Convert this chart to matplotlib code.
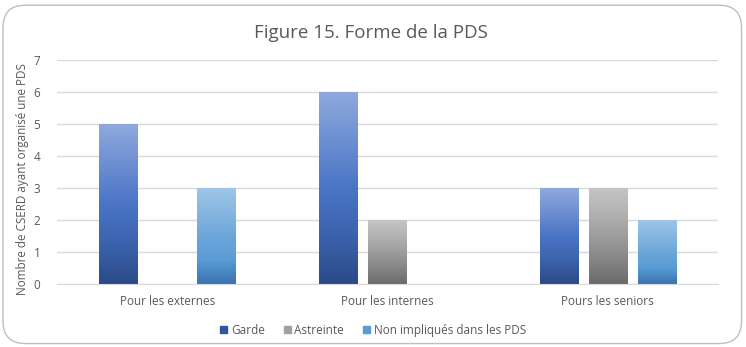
import numpy as np
import matplotlib.pyplot as plt
from matplotlib.colors import LinearSegmentedColormap
from matplotlib.patches import FancyBboxPatch

categories = ["Pour les externes", "Pour les internes", "Pours les seniors"]
series = ["Garde", "Astreinte", "Non impliqués dans les PDS"]
garde = [5, 6, 3]
astreinte = [0, 2, 3]
non_impliques = [3, 0, 2]

# gradient stops (bottom -> top) per series
gradients = [
    ["#2b4a86", "#3b63ad", "#4a74c6", "#6d8fd2", "#8fa9dd"],
    ["#6b6b6b", "#858585", "#9d9d9d", "#b3b3b3", "#c4c4c4"],
    ["#3a72b0", "#5a9bd5", "#6ca6da", "#86b6e1", "#9fc5e8"],
]
legend_colors = ["#2f55a0", "#a0a0a0", "#5b9bd5"]

plt.rcParams['font.family'] = ['Open Sans', 'DejaVu Sans']

fig = plt.figure(figsize=(7.46, 3.47), dpi=100)
ax = fig.add_axes([0.0764, 0.1816, 0.886, 0.6454])

x = np.arange(len(categories))
width = 0.173
offsets = [-0.223, 0.0, 0.223]
grad = np.linspace(0, 1, 256).reshape(-1, 1)

for vals, off, stops, col, name in zip([garde, astreinte, non_impliques], offsets,
                                       gradients, legend_colors, series):
    bars = ax.bar(x + off, vals, width, color=col, label=name, zorder=2)
    cmap = LinearSegmentedColormap.from_list(name, stops)
    for b in bars:
        if b.get_height() == 0:
            continue
        b.set_facecolor("none")
        x0, y0 = b.get_x(), b.get_y()
        im = ax.imshow(grad, cmap=cmap, origin="lower", aspect="auto",
                       extent=[x0, x0 + b.get_width(), y0, y0 + b.get_height()],
                       zorder=2)
        im.set_clip_path(b)

ax.set_xlim(-0.5, 2.5)
ax.set_ylim(0, 7)
ax.set_yticks(range(0, 8))
ax.set_xticks(x)
ax.set_xticklabels(categories)
ax.grid(axis="y", color="#d9d9d9", linewidth=1, zorder=0)
for s in ["top", "right", "left"]:
    ax.spines[s].set_visible(False)
ax.spines["bottom"].set_color("#d9d9d9")
ax.tick_params(axis="both", length=0, colors="#595959", labelsize=8.5)
ax.tick_params(axis="x", pad=8)
ax.tick_params(axis="y", pad=12)
ax.set_ylabel("Nombre de CSERD ayant organisé une PDS", color="#595959",
              fontsize=8.4, labelpad=3)
ax.yaxis.set_label_coords(-0.042, 0.47)

fig.text(0.497, 0.905, "Figure 15. Forme de la PDS", ha="center", va="center",
         fontsize=13.5, color="#595959")

handles = [plt.Rectangle((0, 0), 1, 1, color=c) for c in legend_colors]
fig.legend(handles, series, loc="center", bbox_to_anchor=(0.5, 0.048), ncol=3,
           frameon=False, fontsize=8.5, handlelength=0.6, handleheight=0.6,
           handletextpad=0.3, columnspacing=1.6, labelcolor="#595959")

border = FancyBboxPatch((0.004, 0.01), 0.99, 0.975, boxstyle="round,pad=0,rounding_size=0.03",
                        transform=fig.transFigure, fill=False, edgecolor="#bfbfbf",
                        linewidth=1, mutation_aspect=746 / 347)
fig.patches.append(border)

fig.savefig("out.png", dpi=100)
